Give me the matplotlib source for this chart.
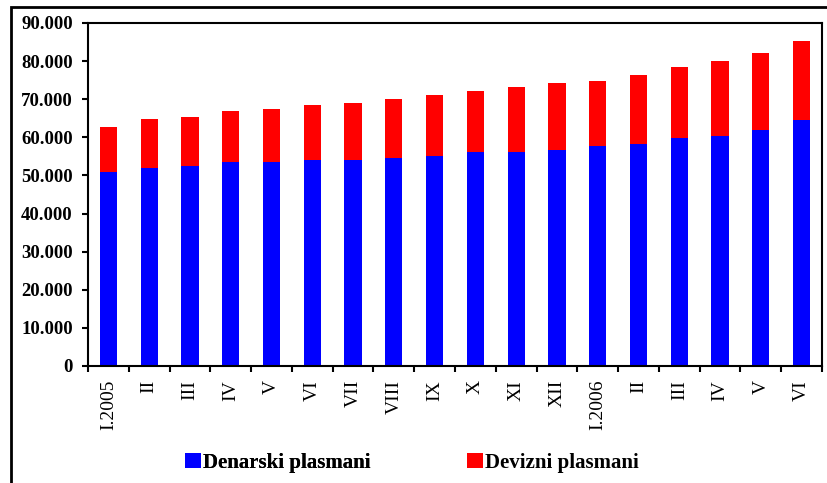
import numpy as np
import matplotlib
matplotlib.use("Agg")
import matplotlib.pyplot as plt
from matplotlib.patches import Rectangle
from matplotlib.ticker import FuncFormatter

# Monthly placements
months = ["I.2005", "II", "III", "IV", "V", "VI", "VII", "VIII", "IX", "X",
          "XI", "XII", "I.2006", "II", "III", "IV", "V", "VI"]
denarski = [50900, 51950, 52560, 53530, 53530, 54050, 54050, 54580, 55190,
            56240, 56240, 56760, 57810, 58330, 59910, 60430, 62010, 64630]
totals = [62710, 64800, 65340, 66910, 67440, 68490, 69010, 70060, 71110,
          72160, 73210, 74260, 74780, 76360, 78460, 80030, 82130, 85280]
devizni = [t - d for t, d in zip(totals, denarski)]

plt.rcParams["font.family"] = ["Liberation Serif", "DejaVu Serif"]

fig = plt.figure(figsize=(8.27, 4.83), dpi=100)
ax = fig.add_axes([88 / 827, 1 - 366 / 483, (822 - 88) / 827, (366 - 23) / 483])

x = np.arange(len(months))
b1 = ax.bar(x, denarski, width=0.42, color="#0000FF", label="Denarski plasmani")
b2 = ax.bar(x, devizni, width=0.42, bottom=denarski, color="#FF0000",
            label="Devizni plasmani")

ax.set_xlim(-0.5, len(months) - 0.5)
ax.set_ylim(0, 90000)
ax.set_yticks(np.arange(0, 90001, 10000))
ax.yaxis.set_major_formatter(FuncFormatter(lambda v, p: f"{v:,.0f}".replace(",", ".")))
for lab in ax.get_yticklabels():
    lab.set_fontweight("bold")
    lab.set_fontsize(13.5)
ax.tick_params(axis="y", direction="out", length=4, width=1.5, pad=7)

# category labels at centres, tick marks between categories
ax.set_xticks(x)
ax.set_xticklabels(months, rotation=90, fontsize=14)
ax.set_xticks(np.arange(-0.5, len(months)), minor=True)
ax.tick_params(axis="x", which="major", length=0, pad=10)
ax.tick_params(axis="x", which="minor", direction="out", length=4, width=1.5)

for s in ax.spines.values():
    s.set_linewidth(1.5)
    s.set_color("black")

# outer chart frame (runs off the right and bottom edges)
fig.patches.append(Rectangle((11 / 827, -0.2), 1.2, 1.2 - 7 / 483,
                             transform=fig.transFigure, fill=False,
                             edgecolor="black", linewidth=2))

legend_kw = dict(loc="center left", frameon=False, borderpad=0,
                 prop={"weight": "bold", "size": 15},
                 handlelength=0.75, handleheight=0.75, handletextpad=0.1)
leg1 = fig.legend(handles=[b1], bbox_to_anchor=(175 / 827, 1 - 463 / 483), **legend_kw)
fig.add_artist(leg1)
fig.legend(handles=[b2], bbox_to_anchor=(457 / 827, 1 - 463 / 483), **legend_kw)

fig.savefig("out.png", dpi=100)
